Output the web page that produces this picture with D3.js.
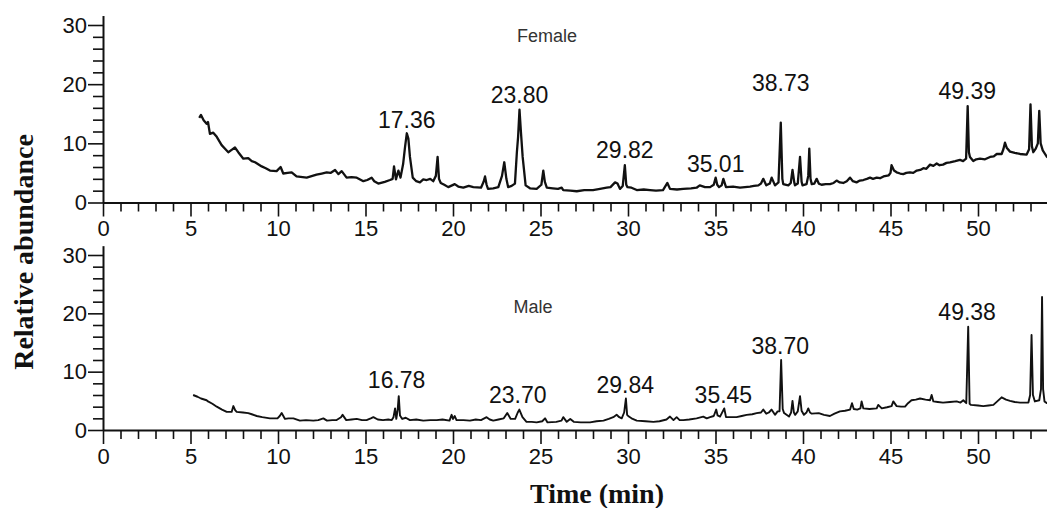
<!DOCTYPE html>
<html>
<head>
<meta charset="utf-8">
<script src="https://cdn.jsdelivr.net/npm/d3@7"></script>
<style>
  body { margin: 0; background: #fff; }
  svg text { fill: #111; }
</style>
</head>
<body>
<script>
// chromatogram values: [time (min), relative abundance]
const femalePoints = [
  [5.5,14.3],[5.6,14.8],[5.75,13.9],[5.92,13.3],[6.0,13.6],[6.11,11.6],[6.3,11.8],[6.5,11.1],[6.78,9.7],[7.0,9.0],
  [7.16,8.5],[7.35,8.9],[7.54,9.3],[7.73,8.5],[8.02,7.4],[8.3,7.5],[8.5,7.0],[8.69,6.8],[9.07,6.1],[9.3,5.8],
  [9.54,5.4],[9.92,5.3],[10.15,6.0],[10.3,4.9],[10.55,5.0],[10.78,5.1],[11.06,4.4],[11.64,4.2],[12.2,4.7],[12.5,4.9],
  [12.78,5.1],[13.0,5.0],[13.26,5.5],[13.45,4.8],[13.64,5.3],[13.92,4.2],[14.2,4.3],[14.5,4.2],[14.88,3.6],[15.1,3.8],
  [15.35,4.2],[15.5,3.6],[15.73,3.2],[16.1,3.5],[16.4,3.8],[16.55,4.0],[16.63,6.1],[16.74,3.9],[16.88,5.4],[17.0,4.2],
  [17.15,6.5],[17.26,9.4],[17.36,11.7],[17.45,10.8],[17.54,7.7],[17.7,4.2],[17.9,3.6],[18.11,3.4],[18.3,3.9],[18.5,3.8],
  [18.7,4.0],[18.87,3.6],[19.02,4.5],[19.12,7.7],[19.2,4.0],[19.3,3.3],[19.5,3.0],[19.73,2.6],[20.1,3.1],[20.3,2.7],
  [20.59,2.5],[20.9,2.8],[21.16,2.6],[21.6,2.5],[21.75,3.5],[21.83,4.4],[21.92,3.0],[22.0,2.3],[22.3,2.4],[22.59,2.6],
  [22.8,4.5],[22.93,6.8],[23.05,4.0],[23.15,2.6],[23.35,2.8],[23.54,3.2],[23.65,8.5],[23.72,11.1],[23.8,15.7],[23.88,12.0],
  [23.98,7.7],[24.15,2.9],[24.4,2.4],[24.78,2.3],[25.05,3.0],[25.16,5.4],[25.25,3.5],[25.36,2.5],[25.7,2.4],[26.0,2.3],
  [26.21,2.5],[26.3,2.1],[26.7,2.0],[27.07,1.9],[27.5,2.1],[28.0,2.1],[28.4,2.3],[28.78,2.5],[29.0,2.6],[29.26,3.4],
  [29.4,3.2],[29.54,2.3],[29.7,2.8],[29.82,6.3],[29.9,3.0],[29.97,2.6],[30.2,2.5],[30.5,2.1],[30.9,2.2],[31.26,2.1],
  [31.6,2.0],[32.0,2.1],[32.25,3.3],[32.4,2.3],[32.8,2.2],[33.16,2.3],[33.6,2.4],[33.92,2.5],[34.1,2.9],[34.4,2.6],
  [34.69,2.6],[34.9,3.0],[35.01,4.2],[35.1,3.0],[35.2,2.6],[35.35,2.9],[35.45,4.0],[35.6,2.6],[36.0,2.7],[36.4,2.5],
  [36.97,2.7],[37.2,2.8],[37.45,2.9],[37.6,3.2],[37.73,4.0],[37.9,2.9],[38.1,3.2],[38.21,4.2],[38.4,2.9],[38.6,3.4],
  [38.73,13.5],[38.82,4.0],[38.87,3.1],[39.16,2.9],[39.3,3.3],[39.4,5.5],[39.5,3.4],[39.54,2.9],[39.7,3.2],[39.83,7.7],
  [39.92,3.5],[39.97,2.9],[40.2,3.1],[40.3,4.5],[40.36,9.1],[40.43,4.0],[40.5,3.1],[40.65,3.2],[40.78,4.0],[40.9,3.2],
  [41.06,3.0],[41.3,3.1],[41.54,3.1],[41.75,3.3],[41.92,3.7],[42.1,3.4],[42.3,3.3],[42.5,3.6],[42.69,4.2],[42.85,3.6],
  [43.06,3.4],[43.25,3.7],[43.45,3.8],[43.65,4.0],[43.83,4.2],[44.0,4.0],[44.21,4.2],[44.4,4.1],[44.6,4.4],[44.9,4.6],
  [45.0,5.0],[45.06,6.3],[45.2,5.4],[45.35,5.1],[45.55,4.9],[45.73,4.8],[45.9,5.0],[46.11,5.1],[46.3,5.0],[46.5,5.4],
  [46.7,5.5],[46.88,5.8],[47.05,5.7],[47.26,6.4],[47.45,6.2],[47.64,6.6],[47.8,6.3],[48.0,6.4],[48.2,6.7],[48.4,6.8],
  [48.7,7.0],[48.97,7.2],[49.15,7.0],[49.32,7.4],[49.41,16.3],[49.48,8.5],[49.54,7.7],[49.73,7.0],[49.9,7.3],[50.11,7.4],
  [50.4,7.3],[50.69,7.7],[50.9,7.8],[51.07,8.2],[51.35,8.2],[51.45,9.0],[51.54,10.1],[51.65,9.2],[51.83,8.6],[52.1,8.4],
  [52.4,8.2],[52.78,8.1],[52.92,9.0],[53.0,16.6],[53.08,9.5],[53.16,8.5],[53.3,9.1],[53.42,10.0],[53.5,15.5],[53.58,10.0],
  [53.7,8.8],[53.94,7.7],[54.2,7.5]
];

const malePoints = [
  [5.15,6.0],[5.4,5.7],[5.6,5.4],[5.92,5.1],[6.0,4.9],[6.25,4.5],[6.5,4.0],[6.8,3.5],[7.07,3.1],[7.35,3.1],
  [7.45,4.1],[7.55,3.4],[7.64,3.1],[8.0,3.0],[8.3,2.9],[8.5,2.7],[8.78,2.4],[9.1,2.2],[9.54,2.0],[9.97,2.0],
  [10.1,2.4],[10.21,2.9],[10.4,1.9],[10.6,2.0],[10.88,2.0],[11.25,1.6],[11.6,1.7],[12.02,1.6],[12.3,1.7],[12.59,2.0],
  [12.8,1.6],[13.1,1.7],[13.35,1.7],[13.6,2.2],[13.69,2.6],[13.9,1.7],[14.2,1.8],[14.5,1.9],[14.8,1.7],[15.06,1.7],
  [15.3,2.0],[15.45,2.2],[15.7,1.8],[16.0,1.7],[16.3,1.8],[16.5,1.7],[16.6,2.2],[16.69,3.7],[16.76,1.9],[16.84,3.5],
  [16.9,5.8],[16.97,2.5],[17.1,1.9],[17.3,2.1],[17.54,1.7],[17.9,1.8],[18.3,1.6],[18.7,1.7],[19.07,1.7],[19.4,1.8],
  [19.8,1.6],[19.92,2.6],[20.0,1.9],[20.1,2.4],[20.2,1.7],[20.6,1.7],[20.97,1.6],[21.3,1.8],[21.6,1.7],[21.92,2.2],
  [22.1,1.8],[22.3,1.6],[22.6,1.8],[22.9,2.0],[23.1,2.9],[23.3,1.9],[23.55,1.9],[23.7,3.0],[23.79,3.5],[23.97,2.2],
  [24.2,1.4],[24.5,1.4],[24.78,1.3],[25.1,1.5],[25.26,2.0],[25.4,1.3],[25.9,1.4],[26.2,1.6],[26.3,2.2],[26.5,1.4],
  [26.7,1.9],[26.9,1.4],[27.3,1.3],[27.83,1.3],[28.2,1.5],[28.6,1.6],[28.9,1.9],[29.16,2.2],[29.35,2.6],[29.5,2.2],
  [29.64,2.0],[29.78,3.0],[29.88,5.4],[29.95,2.6],[30.05,2.3],[30.2,2.0],[30.5,1.6],[31.0,1.5],[31.45,1.4],[31.8,1.5],
  [32.2,1.8],[32.4,2.3],[32.6,1.7],[32.78,2.2],[32.95,1.7],[33.16,1.7],[33.5,1.8],[33.92,2.0],[34.3,2.3],[34.5,2.0],
  [34.69,2.2],[34.9,2.4],[35.04,3.5],[35.12,2.5],[35.26,2.3],[35.5,3.7],[35.6,2.2],[36.2,2.2],[36.5,2.4],[36.78,2.6],
  [37.1,2.7],[37.35,2.9],[37.6,3.0],[37.73,3.5],[37.9,2.8],[38.05,3.0],[38.2,3.5],[38.4,2.6],[38.55,3.2],[38.66,3.2],
  [38.75,12.0],[38.84,3.6],[38.92,2.9],[39.2,2.3],[39.32,3.0],[39.4,5.0],[39.48,3.0],[39.55,2.6],[39.7,3.2],[39.83,5.8],
  [39.92,3.3],[40.05,2.6],[40.2,3.0],[40.3,3.7],[40.4,3.0],[40.5,2.8],[40.9,2.9],[41.2,2.6],[41.54,2.4],[41.8,2.8],
  [42.11,3.2],[42.4,3.3],[42.69,3.5],[42.8,4.6],[42.9,3.6],[43.1,3.5],[43.28,3.7],[43.35,4.9],[43.45,3.7],[43.8,3.6],
  [44.21,3.7],[44.3,4.3],[44.5,3.7],[44.8,3.9],[45.06,4.1],[45.16,4.9],[45.35,4.1],[45.6,4.0],[45.83,4.0],[46.0,4.6],
  [46.2,5.1],[46.45,5.2],[46.69,5.4],[47.0,5.2],[47.26,5.1],[47.35,6.0],[47.45,4.9],[47.7,4.8],[48.0,4.7],[48.4,4.8],
  [48.78,4.9],[49.0,4.7],[49.16,5.1],[49.33,4.6],[49.44,17.7],[49.52,4.5],[49.6,4.3],[50.0,4.2],[50.3,4.1],[50.6,4.2],
  [50.88,4.3],[51.1,4.9],[51.35,5.6],[51.6,5.2],[51.83,5.0],[52.1,4.8],[52.4,4.7],[52.88,4.7],[52.98,6.0],[53.06,16.3],
  [53.14,6.0],[53.25,4.9],[53.5,5.1],[53.6,7.0],[53.66,22.8],[53.72,7.0],[53.8,4.9],[53.94,4.6],[54.2,4.5]
];

// peak annotations: retention time label and the abundance level of its baseline
const femalePeakLabels = ["17.36", "23.80", "29.82", "35.01", "38.73", "49.39"];
const femalePeakLevels = [12.6, 16.8, 7.5, 5.15, 18.8, 17.5];
const malePeakLabels = ["16.78", "23.70", "29.84", "35.45", "38.70", "49.38"];
const malePeakLevels = [7.2, 4.6, 6.3, 4.6, 13.0, 18.9];

const timeMajorTicks = [0, 5, 10, 15, 20, 25, 30, 35, 40, 45, 50];
const timeMinorTicks = d3.range(1, 54).filter(d => d % 5 !== 0);
const abundMajorTicks = [0, 10, 20, 30];
const abundMinorTicks = [2, 4, 6, 8, 12, 14, 16, 18, 22, 24, 26, 28];

const width = 1047, height = 508;

const svg = d3.select("body")
  .append("svg")
  .attr("width", width)
  .attr("height", height)
  .style("font-family", "'Liberation Sans', Arial, sans-serif");

const x = d3.scaleLinear().domain([0, 54]).range([103, 1048]);

const panels = [
  { name: "Female", points: femalePoints, labels: femalePeakLabels, levels: femalePeakLevels,
    y0: 202.5, y30: 25, nameX: 547, nameY: 42, lineW: 2.3 },
  { name: "Male", points: malePoints, labels: malePeakLabels, levels: malePeakLevels,
    y0: 430, y30: 255, nameX: 533, nameY: 313, lineW: 1.9 }
];

panels.forEach(p => {
  const y = d3.scaleLinear().domain([0, 30]).range([p.y0, p.y30]);
  const yAxisScale = y.copy().domain([0, 31.6]).range([p.y0, y(31.6)]);
  const g = svg.append("g");

  // trace
  g.append("path")
    .datum(p.points)
    .attr("fill", "none")
    .attr("stroke", "#111")
    .attr("stroke-width", p.lineW)
    .attr("stroke-linejoin", "round")
    .attr("d", d3.line().x(d => x(d[0])).y(d => y(d[1])));

  // x axis
  g.append("g")
    .attr("transform", `translate(0,${p.y0})`)
    .call(d3.axisBottom(x).tickValues(timeMajorTicks).tickSize(14).tickSizeOuter(0).tickPadding(4));
  g.append("g")
    .attr("transform", `translate(0,${p.y0})`)
    .call(d3.axisBottom(x).tickValues(timeMinorTicks).tickSize(9).tickFormat(""))
    .call(a => a.select(".domain").remove());

  // y axis
  g.append("g")
    .attr("transform", `translate(${x(0)},0)`)
    .call(d3.axisLeft(yAxisScale).tickValues(abundMajorTicks).tickSize(15).tickSizeOuter(0).tickPadding(1));
  g.append("g")
    .attr("transform", `translate(${x(0)},0)`)
    .call(d3.axisLeft(yAxisScale).tickValues(abundMinorTicks).tickSize(10).tickFormat(""))
    .call(a => a.select(".domain").remove());

  g.selectAll(".domain").attr("stroke", "#111").attr("stroke-width", 2);
  g.selectAll(".tick line").attr("stroke", "#111").attr("stroke-width", 1.6);
  g.selectAll(".tick text")
    .attr("font-size", 22)
    .attr("font-family", "'Liberation Sans', Arial, sans-serif")
    .attr("fill", "#111");

  // panel name
  g.append("text")
    .attr("x", p.nameX)
    .attr("y", p.nameY)
    .attr("text-anchor", "middle")
    .attr("font-size", 18)
    .style("fill", "#333")
    .text(p.name);

  // peak labels
  g.selectAll(".peak")
    .data(p.labels)
    .enter()
    .append("text")
    .attr("class", "peak")
    .attr("x", d => x(+d))
    .attr("y", (d, i) => y(p.levels[i]))
    .attr("text-anchor", "middle")
    .attr("font-size", 23)
    .text(d => d);
});

// axis titles
svg.append("text")
  .attr("x", 597)
  .attr("y", 503)
  .attr("text-anchor", "middle")
  .attr("font-family", "'Liberation Serif', 'Times New Roman', serif")
  .attr("font-weight", "bold")
  .attr("font-size", 28)
  .text("Time (min)");

svg.append("text")
  .attr("transform", "translate(33,252) rotate(-90)")
  .attr("text-anchor", "middle")
  .attr("font-family", "'Liberation Serif', 'Times New Roman', serif")
  .attr("font-weight", "bold")
  .attr("font-size", 28)
  .text("Relative abundance");
</script>
</body>
</html>
